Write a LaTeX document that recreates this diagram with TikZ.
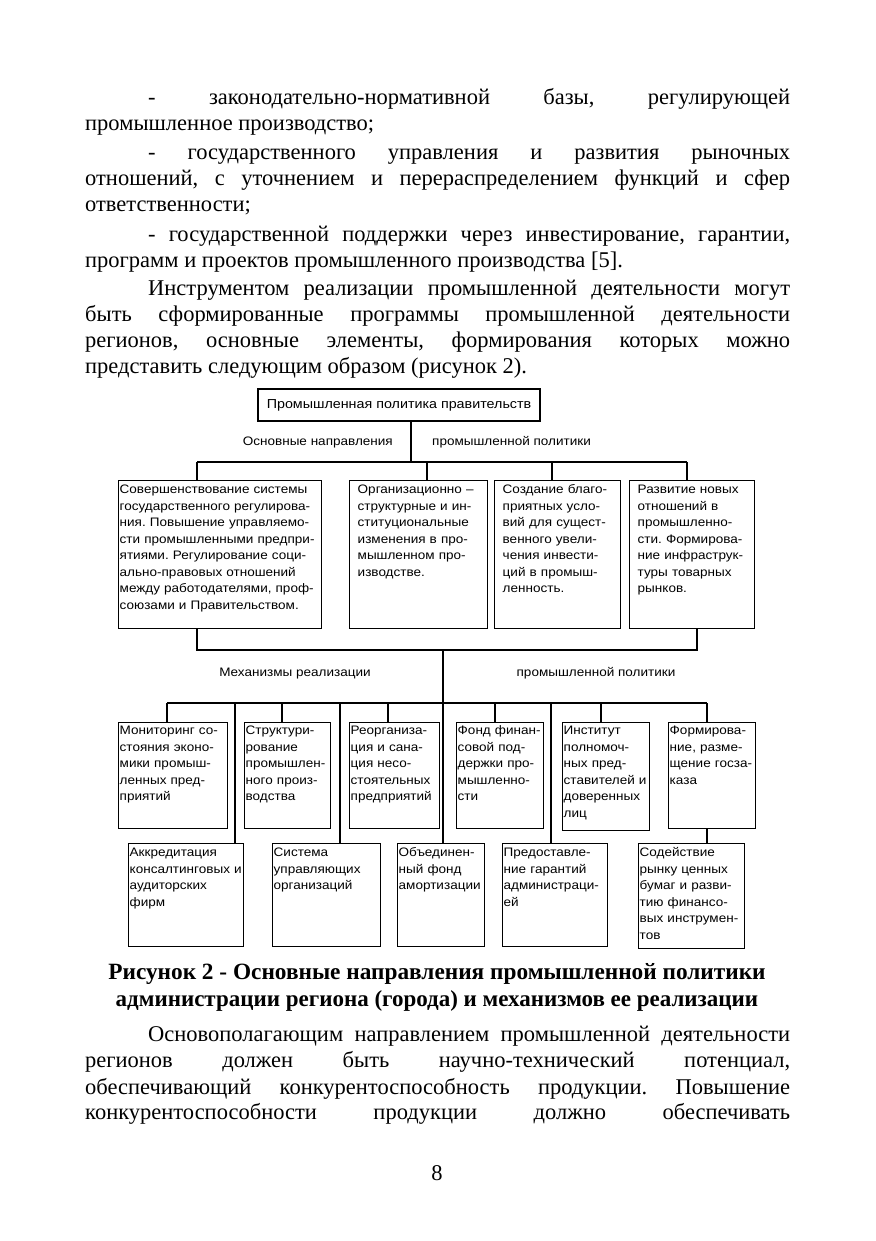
\documentclass[tikz,border=0pt]{standalone}
\usepackage{fontspec}
\setmainfont{Liberation Serif}
\newfontfamily\schemefont[FakeStretch=1.1]{Liberation Sans}
\frenchspacing

\tikzset{
  cell/.style={draw, line width=1.4pt, anchor=north west, align=left,
    inner ysep=0pt, inner xsep=1pt, text height=12pt,
    font=\schemefont\fontsize{12.3}{16.5}\selectfont},
  tag/.style={inner sep=0pt, font=\schemefont\fontsize{12.3}{16.5}\selectfont},
  link/.style={line width=1.4pt},
  bodyline/.style={anchor=base west, inner sep=0pt, font=\fontsize{22.5}{26}\selectfont},
}

\begin{document}
\begin{tikzpicture}[x=1pt, y=-1pt]
    \useasboundingbox[fill=white] (0,0) rectangle (875,1241);

    % justified lines of the page text
    \foreach \x/\y/\w/\txt [count=\i] in {
        148/105/642/{- законодательно-нормативной базы, регулирующей},
        148/160/642/{- государственного управления и развития рыночных},
        85/186/705/{отношений, с уточнением и перераспределением функций и сфер},
        148/241/642/{- государственной поддержки через инвестирование, гарантии,},
        148/295/642/{Инструментом реализации промышленной деятельности могут},
        85/321/705/{быть сформированные программы промышленной деятельности},
        85/347/705/{регионов, основные элементы, формирования которых можно},
        148/1041/642/{Основополагающим направлением промышленной деятельности},
        85/1067/705/{регионов должен быть научно-технический потенциал,},
        85/1094/705/{обеспечивающий конкурентоспособность продукции. Повышение},
        85/1119/705/{конкурентоспособности продукции должно обеспечивать}} {
        \node[bodyline] (j\i) at (\x,\y) {\makebox[\w pt][s]{\txt}};
    }

    % last lines of the paragraphs
    \foreach \y/\txt [count=\i] in {
        131/{промышленное производство;},
        212/{ответственности;},
        267/{программ и проектов промышленного производства [5].},
        373/{представить следующим образом (рисунок 2).}} {
        \node[bodyline] (r\i) at (85,\y) {\txt};
    }

    % top of the scheme
    \node[draw, line width=1.7pt, tag, font=\schemefont\fontsize{13}{16}\selectfont, minimum width=282pt, minimum height=32pt] (gov) at (399,405) {Промышленная политика правительств};
    \coordinate (j1) at (411,462);
    \draw[link] (gov.south -| j1) -- (j1);
    \node[tag, anchor=base east] (dirL) at (393,445) {Основные направления};
    \node[tag, anchor=base west] (dirR) at (432,445) {промышленной политики};

    % main directions
    \node[cell, text height=13pt, text width=201pt, text depth=135pt] (d1) at (118,480) {Совершенствование~системы\\государственного~регулирова-\\ния.~Повышение~управляемо-\\сти~промышленными~предпри-\\ятиями.~Регулирование~соци-\\ально-правовых~отношений\\между~работодателями,~проф-\\союзами~и~Правительством.};
    \node[cell, text height=13pt, text width=136pt, text depth=135pt] (d2) at (349,480) {\leftskip=7pt Организационно~–\\структурные~и~ин-\\ституциональные\\изменения~в~про-\\мышленном~про-\\изводстве.\par};
    \node[cell, text height=13pt, text width=124pt, text depth=135pt] (d3) at (494,480) {\leftskip=7pt Создание~благо-\\приятных~усло-\\вий~для~сущест-\\венного~увели-\\чения~инвести-\\ций~в~промыш-\\ленность.\par};
    \node[cell, text height=13pt, text width=123pt, text depth=135pt] (d4) at (629,480) {\leftskip=7pt Развитие~новых\\отношений~в\\промышленно-\\сти.~Формирова-\\ние~инфраструк-\\туры~товарных\\рынков.\par};

    \coordinate (b1L) at (197,462);
    \coordinate (b1R) at (687,462);
    \draw[link] (b1L) -- (b1R);
    \foreach \x/\n in {197/d1, 427/d2, 552/d3, 687/d4} {
        \draw[link] (\x,462) -- (\x,462 |- \n.north);
    }

    % gathering line and realization mechanisms
    \coordinate (b2L) at (197,650);
    \coordinate (b2R) at (697,650);
    \draw[link] (d1.south -| b2L) -- (b2L) -- (b2R) -- (d4.south -| b2R);
    \coordinate (b3T) at (443,703);
    \draw[link] (b3T |- b2L) -- (b3T);
    \node[tag, anchor=base] (mechL) at (295,676) {Механизмы реализации};
    \node[tag, anchor=base] (mechR) at (596,676) {промышленной политики};

    \node[cell, text width=107pt, text depth=94pt] (m1) at (118,722) {Мониторинг~со-\\стояния~эконо-\\мики~промыш-\\ленных~пред-\\приятий};
    \node[cell, text width=84pt, text depth=94pt] (m2) at (244,722) {Структури-\\рование\\промышлен-\\ного~произ-\\водства};
    \node[cell, text width=88pt, text depth=94pt] (m3) at (349,722) {Реорганиза-\\ция~и~сана-\\ция~несо-\\стоятельных\\предприятий};
    \node[cell, text width=85pt, text depth=94pt] (m4) at (456,722) {Фонд~финан-\\совой~под-\\держки~про-\\мышленно-\\сти};
    \node[cell, text width=85pt, text depth=96pt] (m5) at (562,722) {Институт\\полномоч-\\ных~пред-\\ставителей~и\\доверенных\\лиц};
    \node[cell, text width=85pt, text depth=94pt] (m6) at (668,722) {Формирова-\\ние,~разме-\\щение~госза-\\каза};

    \node[cell, text height=13pt, text width=113pt, text depth=90pt] (k1) at (128,843) {Аккредитация\\консалтинговых~и\\аудиторских\\фирм};
    \node[cell, text height=13pt, text width=106pt, text depth=90pt] (k2) at (272,843) {Система\\управляющих\\организаций};
    \node[cell, text height=13pt, text width=85pt, text depth=90pt] (k3) at (397,843) {Объединен-\\ный~фонд\\амортизации};
    \node[cell, text height=13pt, text width=103pt, text depth=90pt] (k4) at (502,843) {Предоставле-\\ние~гарантий\\администраци-\\ей};
    \node[cell, text height=13pt, text width=104pt, text depth=92pt] (k5) at (638,843) {Содействие\\рынку~ценных\\бумаг~и~разви-\\тию~финансо-\\вых~инструмен-\\тов};

    \draw[link] (167,703) -- (707,703);
    \foreach \x/\n in {167/m1, 282/m2, 388/m3, 495/m4, 601/m5, 707/m6} {
        \draw[link] (\x,703) -- (\x,703 |- \n.north);
    }
    \foreach \x/\n in {235/k1, 340/k2, 443/k3, 551/k4} {
        \draw[link] (\x,703) -- (\x,703 |- \n.north);
    }
    \draw[link] (m6.south -| 707,0) -- (k5.north -| 707,0);

    % caption and page number
    \node[bodyline, anchor=base, font=\bfseries\fontsize{23.3}{26}\selectfont] (cap1) at (437,979) {Рисунок 2 - Основные направления промышленной политики};
    \node[bodyline, anchor=base, font=\bfseries\fontsize{23}{26}\selectfont] (cap2) at (437,1006) {администрации региона (города) и механизмов ее реализации};
    \node[bodyline, anchor=base] (pg) at (437,1180) {8};
\end{tikzpicture}
\end{document}
